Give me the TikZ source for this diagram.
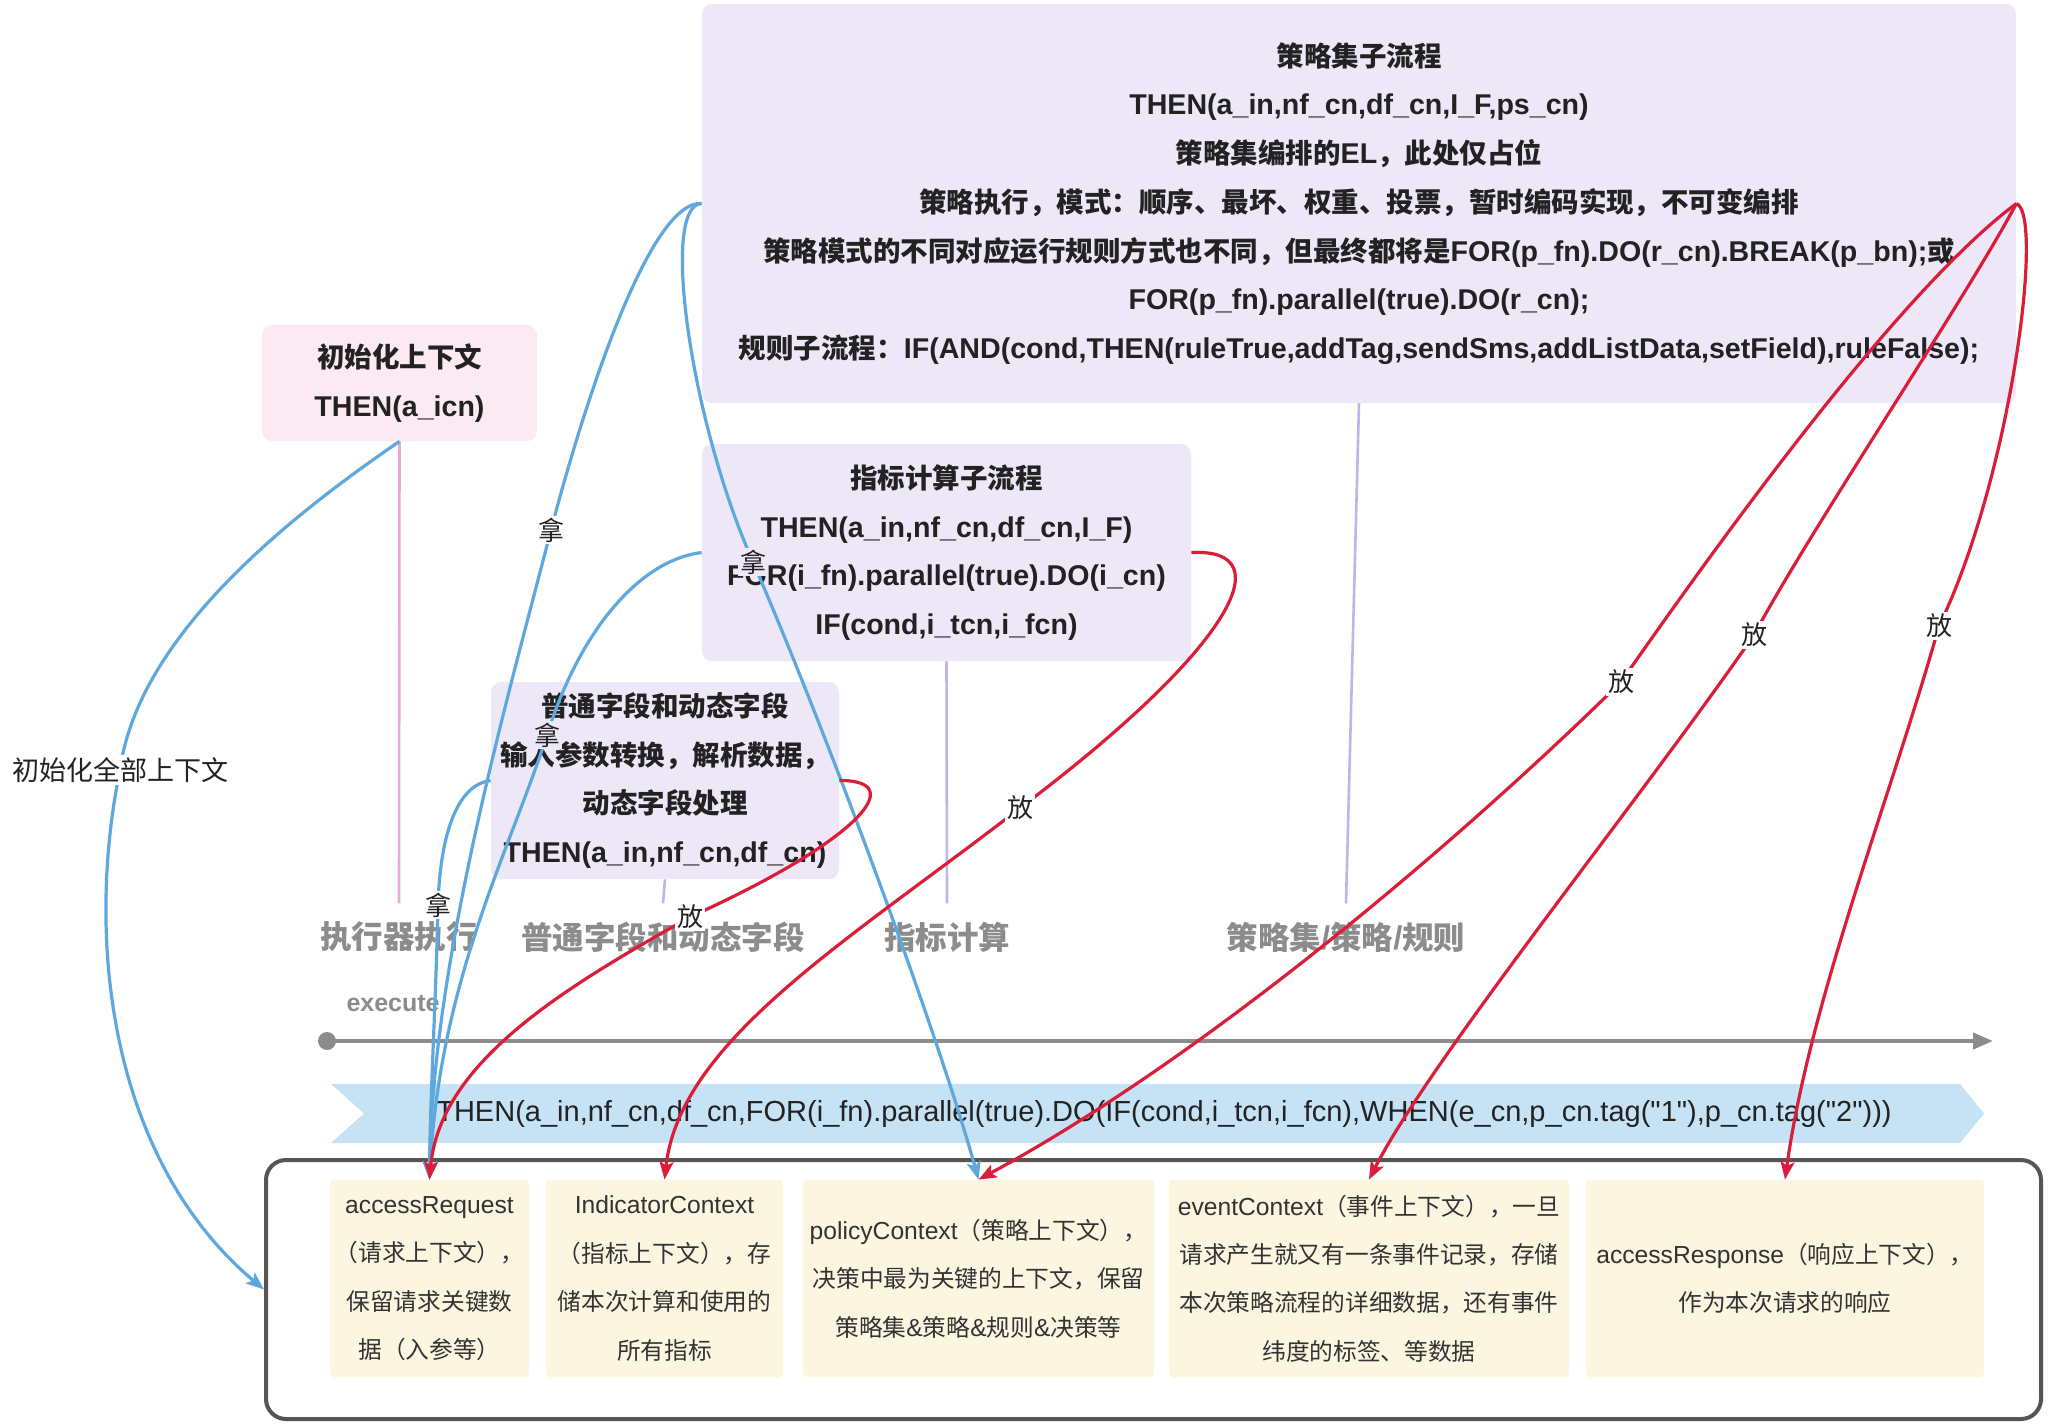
\documentclass[tikz,border=0pt]{standalone}
\usepackage{fontspec}
\setmainfont{Liberation Sans}[Scale=1.04, Ligatures=TeXOff]
\newfontfamily\cjkfont{Noto Sans CJK SC}
\usetikzlibrary{arrows.meta}
\newXeTeXintercharclass\CJKcls
\makeatletter
\def\setcjkrange#1#2{\count@=#1\relax\loop\XeTeXcharclass\count@=\CJKcls\relax\advance\count@\@ne\ifnum\count@<#2\relax\repeat}
\setcjkrange{"3000}{"3040}
\setcjkrange{"4E00}{"A000}
\setcjkrange{"FF00}{"FFF0}
\makeatother
\XeTeXinterchartoks 0 \CJKcls = {\begingroup\cjkfont}
\XeTeXinterchartoks 4095 \CJKcls = {\begingroup\cjkfont}
\XeTeXinterchartoks \CJKcls 0 = {\endgroup}
\XeTeXinterchartoks \CJKcls 4095 = {\endgroup}
\XeTeXinterchartokenstate=1

\definecolor{lav}{RGB}{237,231,248}
\definecolor{pinkf}{RGB}{252,234,243}
\definecolor{yel}{RGB}{252,246,225}
\definecolor{ribbonc}{RGB}{197,227,244}
\definecolor{bluel}{RGB}{94,168,222}
\definecolor{redl}{RGB}{218,30,58}
\definecolor{pinkl}{RGB}{232,170,216}
\definecolor{purpl}{RGB}{196,178,236}
\definecolor{lanegray}{RGB}{140,140,140}
\definecolor{outerc}{RGB}{85,85,85}
\definecolor{txt}{RGB}{34,34,34}
\definecolor{ytxt}{RGB}{51,51,51}

\tikzset{
  lavbox/.style={fill=lav, rounded corners=5pt, inner sep=0pt, align=center, text=txt,
    font=\bfseries\fontsize{13.75}{24.35}\selectfont},
  pinkbox/.style={lavbox, fill=pinkf},
  ybox/.style={fill=yel, rounded corners=2pt, inner sep=0pt, align=center, text=ytxt,
    minimum height=98.5pt, font=\fontsize{11.85}{24.2}\selectfont},
  lane/.style={text=lanegray, font=\bfseries\fontsize{15.75}{18}\selectfont, inner ysep=9pt, inner xsep=0pt},
  bl/.style={draw=bluel, line width=1.6pt, -{Stealth[length=9pt,width=7pt,inset=2pt]}},
  rd/.style={draw=redl, line width=1.6pt, -{Stealth[length=9pt,width=7pt,inset=2pt]}},
  lbl/.style={fill=white, inner sep=1pt, text=txt, font=\fontsize{13}{15}\selectfont},
  pinkline/.style={draw=pinkl, line width=1.3pt},
  purpline/.style={draw=purpl, line width=1.3pt},
}

\begin{document}
\begin{tikzpicture}[x=0.5pt,y=-0.5pt]
\useasboundingbox (0,0) rectangle (2053,1426);
\fill[white] (0,0) rectangle (2053,1426);

% boxes
\node[lavbox, minimum width=657pt, minimum height=199.5pt] (top) at (1359,203.5)
 {策略集子流程\\
  THEN(a\_in,nf\_cn,df\_cn,I\_F,ps\_cn)\\
  策略集编排的EL，此处仅占位\\
  策略执行，模式：顺序、最坏、权重、投票，暂时编码实现，不可变编排\\
  策略模式的不同对应运行规则方式也不同，但最终都将是FOR(p\_fn).DO(r\_cn).BREAK(p\_bn);或\\
  FOR(p\_fn).parallel(true).DO(r\_cn);\\
  规则子流程：IF(AND(cond,THEN(ruleTrue,addTag,sendSms,addListData,setField),ruleFalse);};
\node[pinkbox, minimum width=137.5pt, minimum height=58pt] (pink) at (399.5,383)
 {初始化上下文\\THEN(a\_icn)};
\node[lavbox, minimum width=244.5pt, minimum height=108.5pt] (idx) at (946.5,552.5)
 {指标计算子流程\\THEN(a\_in,nf\_cn,df\_cn,I\_F)\\FOR(i\_fn).parallel(true).DO(i\_cn)\\IF(cond,i\_tcn,i\_fcn)};
\node[lavbox, minimum width=174pt, minimum height=98.5pt] (mid) at (665,780.5)
 {普通字段和动态字段\\输入参数转换，解析数据，\\动态字段处理\\THEN(a\_in,nf\_cn,df\_cn)};

% lane labels
\node[lane] (lexec) at (399,937) {执行器执行};
\node[lane] (lfield) at (663,937) {普通字段和动态字段};
\node[lane] (lind) at (947,937) {指标计算};
\node[lane] (lpol) at (1346,937) {策略集/策略/规则};

\draw[pinkline] (pink.south) -- (lexec.north);
\draw[purpline] (mid.south) -- (lfield.north);
\draw[purpline] (idx.south) -- (lind.north);
\draw[purpline] (top.south) -- (lpol.north);

% timeline
\node[text=lanegray, font=\bfseries\fontsize{12}{14}\selectfont] (exe) at (393,1003) {execute};
\node[circle, fill=lanegray, minimum size=9pt, inner sep=0pt] (tl0) at (327,1041) {};
\coordinate (tl1) at (1993,1041);
\draw[draw=lanegray, line width=2pt, -{Triangle[length=10pt,width=8pt]}] (tl0.center) -- (tl1);

% ribbon
\fill[ribbonc] (331,1084) -- (1960,1084) -- (1984,1113.5) -- (1960,1143) -- (331,1143) -- (364,1113.5) -- cycle;
\node[text=txt, font=\fontsize{13.95}{16}\selectfont, inner sep=0pt] (rtext) at (1164,1114)
 {THEN(a\_in,nf\_cn,df\_cn,FOR(i\_fn).parallel(true).DO(IF(cond,i\_tcn,i\_fcn),WHEN(e\_cn,p\_cn.tag("1"),p\_cn.tag("2")))};

% container and context boxes
\node[draw=outerc, line width=2pt, rounded corners=10pt, minimum width=887.5pt, minimum height=129.5pt, inner sep=0pt] (outer) at (1153.5,1289.5) {};
\node[ybox, minimum width=99.5pt] (acc) at (429.5,1278.5) {accessRequest\\（请求上下文），\\保留请求关键数\\据（入参等）};
\node[ybox, minimum width=118.5pt] (ind) at (664.5,1278.5) {IndicatorContext\\（指标上下文），存\\储本次计算和使用的\\所有指标};
\node[ybox, minimum width=175.5pt] (pol) at (978.5,1278.5) {policyContext（策略上下文），\\决策中最为关键的上下文，保留\\策略集\&策略\&规则\&决策等};
\node[ybox, minimum width=200pt] (evt) at (1369,1278.5) {eventContext（事件上下文），一旦\\请求产生就又有一条事件记录，存储\\本次策略流程的详细数据，还有事件\\纬度的标签、等数据};
\node[ybox, minimum width=199pt] (rsp) at (1785,1278.5) {accessResponse（响应上下文），\\作为本次请求的响应};

% blue connectors
\draw[bl] (pink.south) .. controls (240,550) and (135,660) .. (120,770)
  node[lbl, font=\fontsize{13.5}{16}\selectfont] {初始化全部上下文}
  .. controls (85,940) and (110,1160) .. (outer.west);
\draw[bl] (top.west) .. controls (650,200) and (585,400) .. (551,530) node[lbl] {拿}
  .. controls (510,690) and (432,960) .. (acc.north);
\draw[bl] (top.west) .. controls (660,205) and (690,420) .. (753,562) node[lbl, fill=lav] {拿}
  .. controls (830,740) and (940,1040) .. (pol.north);
\draw[bl] (idx.west) .. controls (640,560) and (580,630) .. (547,735) node[lbl, fill=lav] {拿}
  .. controls (510,850) and (440,980) .. (acc.north);
\draw[bl] (mid.west) .. controls (455,785) and (440,840) .. (438,905) node[lbl] {拿}
  .. controls (436,1000) and (430,1100) .. (acc.north);

% red connectors
\draw[rd] (mid.east) .. controls (910,780) and (860,840) .. (690,917) node[lbl] {放}
  .. controls (570,985) and (440,1060) .. (acc.north);
\draw[rd] (idx.east) .. controls (1285,548) and (1230,650) .. (1020,808) node[lbl] {放}
  .. controls (850,940) and (680,1040) .. (ind.north);
\draw[rd] (top.east) .. controls (1900,290) and (1720,540) .. (1621,682) node[lbl] {放}
  .. controls (1450,850) and (1200,1060) .. (pol.north);
\draw[rd] (top.east) .. controls (1965,300) and (1810,530) .. (1754,635) node[lbl] {放}
  .. controls (1640,800) and (1430,1060) .. (evt.north);
\draw[rd] (top.east) .. controls (2045,215) and (2010,480) .. (1939,626) node[lbl] {放}
  .. controls (1890,800) and (1810,1000) .. (rsp.north);
\end{tikzpicture}
\end{document}
